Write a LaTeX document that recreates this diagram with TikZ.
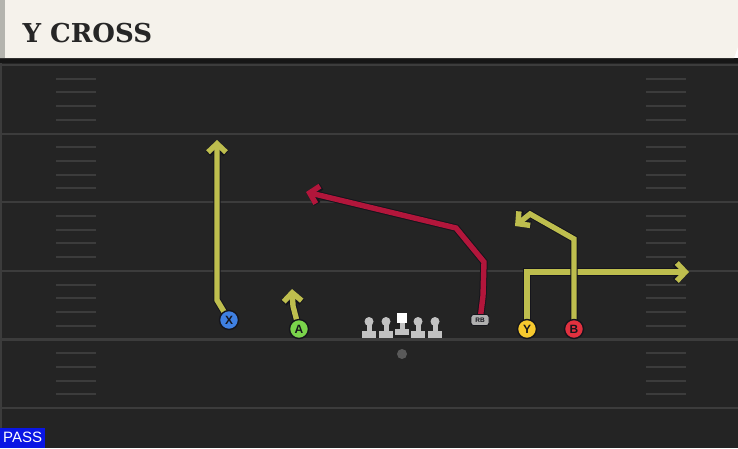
\documentclass[tikz,border=0pt]{standalone}
\usepackage{xcolor}
\usepackage{fontspec}
\newfontfamily\titlefont{DejaVu Serif}
\newfontfamily\tagfont{Liberation Sans}
\usetikzlibrary{arrows.meta,positioning,calc}
\pgfdeclarelayer{field}
\pgfdeclarelayer{routes}
\pgfsetlayers{field,routes,main}
\definecolor{turf}{HTML}{242424}
\definecolor{band}{HTML}{161616}
\definecolor{chalk}{HTML}{3C3C3C}
\definecolor{cream}{HTML}{F5F2EB}
\definecolor{edge}{HTML}{B4B4AE}
\definecolor{olive}{HTML}{BEBE4E}
\definecolor{crimson}{HTML}{B2163B}
\definecolor{rim}{HTML}{15151C}
\definecolor{xblue}{HTML}{3F80E2}
\definecolor{agreen}{HTML}{7AD34B}
\definecolor{ygold}{HTML}{F6C92E}
\definecolor{bred}{HTML}{E1313F}
\definecolor{lineman}{HTML}{C2C2C2}
\definecolor{passblue}{HTML}{0A16E4}

\begin{document}
\begin{tikzpicture}[x=1pt, y=-1pt, >={Straight Barb[length=8.5pt,width=18pt]}]
\tikzstyle{player}=[circle, draw=rim, line width=1.4pt, minimum size=19pt, inner sep=0pt, text=rim, font=\tagfont\bfseries\fontsize{12}{12}\selectfont]
\tikzstyle{yroute}=[->, line width=5.4pt, olive, preaction={draw=rim, line width=7.4pt}]
\tikzstyle{rroute}=[->, line width=5.4pt, crimson, preaction={draw=rim, line width=7.4pt}]
\tikzstyle{yardline}=[chalk, line width=2.2pt]
\tikzstyle{hash}=[chalk, line width=2pt]
\useasboundingbox (0,0) rectangle (738,448);

\begin{pgfonlayer}{field}
\fill[turf] (0,58) rectangle (738,448);
\fill[band] (0,58) rectangle (738,63);
\fill[chalk] (0,63) rectangle (2,448);
\fill[cream] (0,0) -- (738,0) -- (738,47) -- (734,58) -- (0,58) -- cycle;
\fill[edge] (0,0) rectangle (5,58);
\foreach \y in {65,133.6,202.2,270.8,339.4}{
  \draw[yardline] (0,\y) -- (738,\y);
  \foreach \k in {1,...,4}{
    \draw[hash] (56,{\y+13.7*\k}) -- (96,{\y+13.7*\k});
    \draw[hash] (646,{\y+13.7*\k}) -- (686,{\y+13.7*\k});
  }
}
\draw[yardline] (0,408) -- (738,408);
\end{pgfonlayer}

\node[anchor=base west, text=black!85, font=\titlefont\bfseries\fontsize{26}{26}\selectfont] (title) at (19,42) {Y CROSS};

\node[player, fill=xblue]  (X) at (229,320) {X};
\node[player, fill=agreen] (A) at (299,329) {A};
\node[player, fill=ygold]  (Y) at (527,329) {Y};
\node[player, fill=bred]   (B) at (574,329) {B};
\node[draw=rim, line width=0.9pt, fill=lineman!90!black, rounded corners=2.5pt, minimum width=18pt, minimum height=11pt, inner sep=0pt, text=rim, font=\tagfont\bfseries\fontsize{6.5}{6.5}\selectfont] (RB) at (480,320) {RB};
\node[circle, fill=gray!70!black, minimum size=10pt, inner sep=0pt] (QB) at (402,354) {};

\foreach \x in {369,386,418,435}{
  \fill[lineman] (\x-7,331) rectangle (\x+7,337.5);
  \fill[lineman] (\x-2.5,322) rectangle (\x+2.5,332);
  \fill[lineman] (\x,321.5) circle[radius=4.5pt];
}
\fill[lineman] (395,329) rectangle (409,335);
\fill[lineman] (399.5,320) rectangle (404.5,330);
\fill[white] (397,313) rectangle (406.5,322.5);

\coordinate (X1) at (217,300);
\coordinate (X2) at (217,140);
\coordinate (A1) at (293,306);
\coordinate (A2) at (292,289);
\coordinate (R1) at (483,296);
\coordinate (R2) at (484,262);
\coordinate (R3) at (456,228);
\coordinate (R4) at (306,192);
\coordinate (Y1) at (527,272);
\coordinate (Y2) at (689,272);
\coordinate (B1) at (574,239);
\coordinate (B2) at (530,214);
\coordinate (B3) at (515,226);

\begin{pgfonlayer}{routes}
\draw[yroute] (X.center) -- (X1) -- (X2);
\draw[yroute] (A.center) -- (A1) -- (A2);
\draw[rroute] (RB.center) -- (R1) -- (R2) -- (R3) -- (R4);
\draw[yroute] (Y.center) -- (Y1) -- (Y2);
\draw[yroute] (B.center) -- (B1) -- (B2) -- (B3);
\end{pgfonlayer}

\node[anchor=south west, fill=passblue, text=white, inner sep=0pt, minimum width=45pt, minimum height=20pt, font=\tagfont\fontsize{15}{15}\selectfont] (pass) at (0,448) {PASS};
\end{tikzpicture}
\end{document}
